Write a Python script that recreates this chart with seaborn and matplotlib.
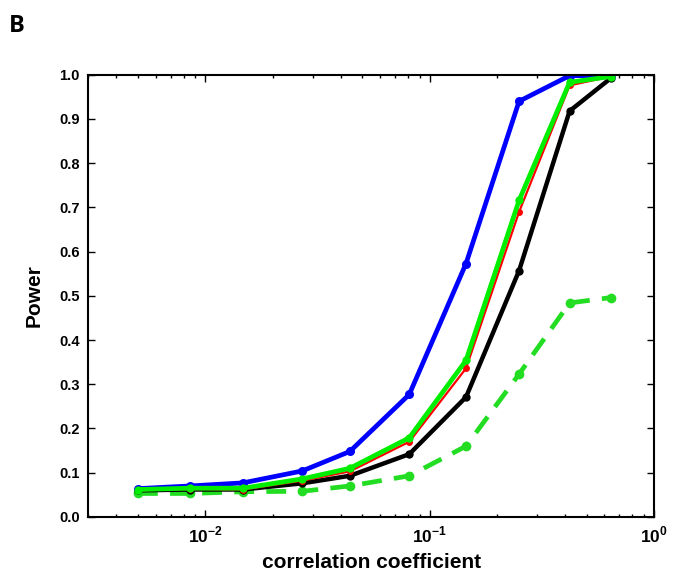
import numpy as np
import pandas as pd
import seaborn as sns
import matplotlib.pyplot as plt
from matplotlib.ticker import FixedLocator, LogLocator, NullFormatter

sns.set_style('ticks')
plt.rcParams['font.family'] = ['Liberation Sans', 'DejaVu Sans']
plt.rcParams['mathtext.fontset'] = 'custom'
plt.rcParams['mathtext.rm'] = 'Liberation Sans:bold'
plt.rcParams['mathtext.bf'] = 'Liberation Sans:bold'
for k in ['text.color', 'axes.labelcolor', 'xtick.color', 'ytick.color']:
    plt.rcParams[k] = 'black'

# correlation coefficients (x) and power for each method
corr = [0.005, 0.0085, 0.0147, 0.027, 0.044, 0.081, 0.145, 0.25, 0.42, 0.64]
power_blue = [0.064, 0.070, 0.077, 0.104, 0.148, 0.277, 0.573, 0.940, 0.998, 0.998]
power_red = [0.060, 0.063, 0.062, 0.082, 0.103, 0.170, 0.336, 0.690, 0.976, 0.996]
power_green = [0.062, 0.065, 0.065, 0.086, 0.110, 0.179, 0.354, 0.716, 0.983, 0.996]
power_black = [0.060, 0.062, 0.062, 0.076, 0.093, 0.142, 0.271, 0.557, 0.918, 0.992]
power_green_dash = [0.053, 0.053, 0.057, 0.058, 0.070, 0.093, 0.160, 0.323, 0.484, 0.496]

fig = plt.figure(figsize=(6.73, 5.75), dpi=100)
ax = fig.add_axes([0.131, 0.101, 0.841, 0.769])

sns.lineplot(x=corr, y=power_green_dash, color='#22dd22', lw=3.4, ls=(0, (4.2, 2.6)),
             marker='o', markersize=7, markeredgewidth=0, ax=ax)
sns.lineplot(x=corr, y=power_black, color='black', lw=3.2,
             marker='o', markersize=6, markeredgewidth=0, ax=ax)
sns.lineplot(x=corr, y=power_blue, color='#0000ff', lw=3.4,
             marker='o', markersize=6.5, markeredgewidth=0, ax=ax)
sns.lineplot(x=corr, y=power_red, color='#ff0000', lw=1.6,
             marker='o', markersize=5, markeredgewidth=0, ax=ax)
sns.lineplot(x=corr, y=power_green, color='#00ee00', lw=3.4,
             marker='o', markersize=6, markeredgewidth=0, ax=ax)

ax.set_xscale('log')
ax.set_xlim(0.003, 1.0)
ax.set_ylim(0, 1.0)

ax.xaxis.set_major_locator(FixedLocator([0.01, 0.1, 1.0]))
ax.set_xticklabels([r'$10^{-2}$', r'$10^{-1}$', r'$10^{0}$'], fontsize=12.5)
ax.xaxis.set_minor_locator(LogLocator(base=10, subs=np.arange(2, 10)))
ax.xaxis.set_minor_formatter(NullFormatter())
ax.set_yticks(np.arange(0, 1.01, 0.1))
ax.set_yticklabels([f'{v:.1f}' for v in np.arange(0, 1.01, 0.1)],
                   fontsize=10.5, fontweight='bold')

ax.tick_params(which='both', direction='in', top=True, right=True, width=1.0)
ax.tick_params(which='major', length=5, pad=6)
ax.tick_params(which='minor', length=2.5)
for s in ax.spines.values():
    s.set_linewidth(1.5)
    s.set_color('black')

ax.set_xlabel('correlation coefficient', fontsize=15, fontweight='bold', labelpad=5)
ax.set_ylabel('Power', fontsize=15, fontweight='bold', labelpad=11)

fig.text(0.013, 0.945, 'B', fontsize=17, fontweight='bold', family='Open Sans')

plt.savefig('out.png', dpi=100)
